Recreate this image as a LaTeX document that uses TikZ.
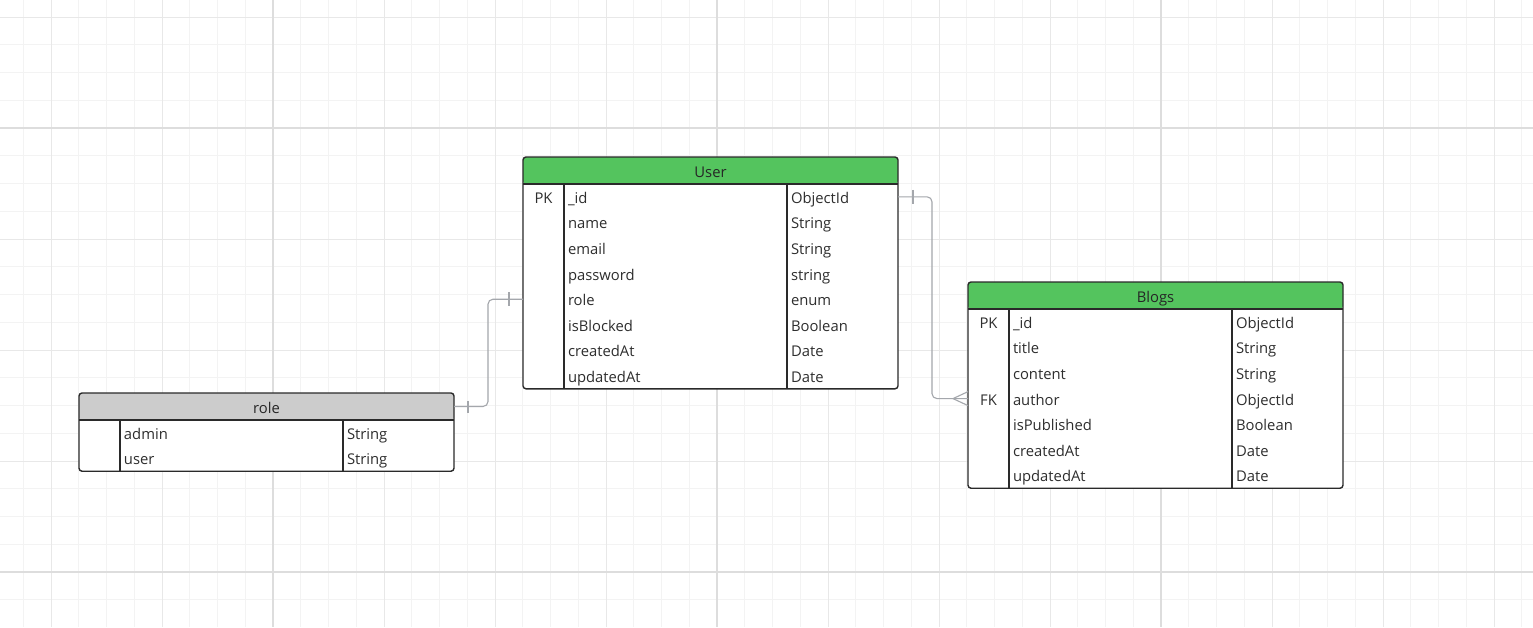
\documentclass[tikz,border=0pt]{standalone}
\usepackage{fontspec}
\newfontfamily\erfont{Open Sans}
\usetikzlibrary{matrix, positioning}
\definecolor{headgreen}{HTML}{54C45E}
\definecolor{headgray}{HTML}{CCCCCC}
\definecolor{tableline}{HTML}{2A2A2A}
\definecolor{celltext}{HTML}{2E2E2E}
\definecolor{relgray}{HTML}{A4A7AC}
\definecolor{gridminor}{HTML}{F3F3F3}
\definecolor{gridmid}{HTML}{E8E8E8}
\definecolor{gridmajor}{HTML}{DDDDDD}
\tikzset{
  table/.style={
    matrix of nodes,
    row sep=0pt,
    column sep=0pt,
    inner sep=0pt,
    outer sep=0pt,
    fill=white,
    anchor=north west,
    nodes={rectangle, inner xsep=4pt, inner ysep=0pt, outer sep=0pt,
      minimum height=25.6pt, text height=14pt, text depth=1pt,
      font=\erfont\fontsize{14.8pt}{17pt}\selectfont, text=celltext},
    nodes in empty cells,
    column 1/.style={nodes={text width=33pt, align=center}},
    column 2/.style={nodes={text width=215pt, align=left}},
    column 3/.style={nodes={text width=103pt, align=left}},
  },
  head/.style={
    rectangle, rounded corners=3pt, anchor=north west,
    minimum width=375pt, minimum height=27pt, inner sep=0pt, outer sep=0pt,
    text height=14pt, text depth=1pt,
    font=\erfont\fontsize{14.8pt}{17pt}\selectfont, text=black!85
  },
  border/.style={draw=tableline, line width=1.4pt, rounded corners=3pt},
  divider/.style={draw=tableline, line width=1.3pt},
  rel/.style={draw=relgray, line width=1.1pt, rounded corners=5pt},
  minorline/.style={draw=gridminor, line width=1pt},
  midline/.style={draw=gridmid, line width=1pt},
  majorline/.style={draw=gridmajor, line width=1.4pt}
}

\begin{document}
\begin{tikzpicture}[x=1pt, y=-1pt]
  \useasboundingbox (0,0) rectangle (1533,627);
  \fill[white] (0,0) rectangle (1533,627);
  % grid
  \foreach \i in {0,...,54} \draw[minorline] ({23.25+27.75*\i},0) -- ++(0,627);
  \foreach \i in {0,...,21} \draw[minorline] (0,{17+27.75*\i}) -- ++(1533,0);
  \foreach \i in {0,...,13} \draw[midline] ({51+111*\i},0) -- ++(0,627);
  \foreach \i in {0,...,5} \draw[midline] (0,{17+111*\i}) -- ++(1533,0);
  \foreach \x in {273,717,1161} \draw[majorline] (\x,0) -- ++(0,627);
  \foreach \y in {128,572} \draw[majorline] (0,\y) -- ++(1533,0);

  % User
  \node[head, fill=headgreen] (user-head) at (523,157) {User};
  \matrix (user) [table] at (user-head.south west) {
    PK & \_id & ObjectId \\
       & name & String \\
       & email & String \\
       & password & string \\
       & role & enum \\
       & isBlocked & Boolean \\
       & createdAt & Date \\
       & updatedAt & Date \\
  };
  \draw[divider] (user-head.south west) -- (user-head.south east);
  \draw[divider] (user-1-2.north west) -- (user-8-2.south west);
  \draw[divider] (user-1-3.north west) -- (user-8-3.south west);
  \draw[border] (user-head.north west) rectangle (user.south east);

  % Blogs
  \node[head, fill=headgreen] (blogs-head) at (968,282) {Blogs};
  \matrix (blogs) [table] at (blogs-head.south west) {
    PK & \_id & ObjectId \\
       & title & String \\
       & content & String \\
    FK & author & ObjectId \\
       & isPublished & Boolean \\
       & createdAt & Date \\
       & updatedAt & Date \\
  };
  \draw[divider] (blogs-head.south west) -- (blogs-head.south east);
  \draw[divider] (blogs-1-2.north west) -- (blogs-7-2.south west);
  \draw[divider] (blogs-1-3.north west) -- (blogs-7-3.south west);
  \draw[border] (blogs-head.north west) rectangle (blogs.south east);

  % role
  \node[head, fill=headgray] (role-head) at (79,393) {role};
  \matrix (role) [table] at (role-head.south west) {
    & admin & String \\
    & user & String \\
  };
  \draw[divider] (role-head.south west) -- (role-head.south east);
  \draw[divider] (role-1-2.north west) -- (role-2-2.south west);
  \draw[divider] (role-1-3.north west) -- (role-2-3.south west);
  \draw[border] (role-head.north west) rectangle (role.south east);

  % relations
  \draw[rel] (role-head.east) -- ++(34,0) |- (user-5-1.west);
  \draw[rel] ([xshift=14pt]role-head.east) ++(0,-6) -- ++(0,12);
  \draw[rel] ([xshift=-14pt]user-5-1.west) ++(0,-7) -- ++(0,14);
  \draw[rel] (user-1-3.east) -- ++(34,0) |- (blogs-4-1.west);
  \draw[rel] ([xshift=15pt]user-1-3.east) ++(0,-7) -- ++(0,14);
  \draw[rel, sharp corners] ([yshift=7pt]blogs-4-1.west) -- ([xshift=-15pt]blogs-4-1.west) -- ([yshift=-7pt]blogs-4-1.west);
\end{tikzpicture}
\end{document}
